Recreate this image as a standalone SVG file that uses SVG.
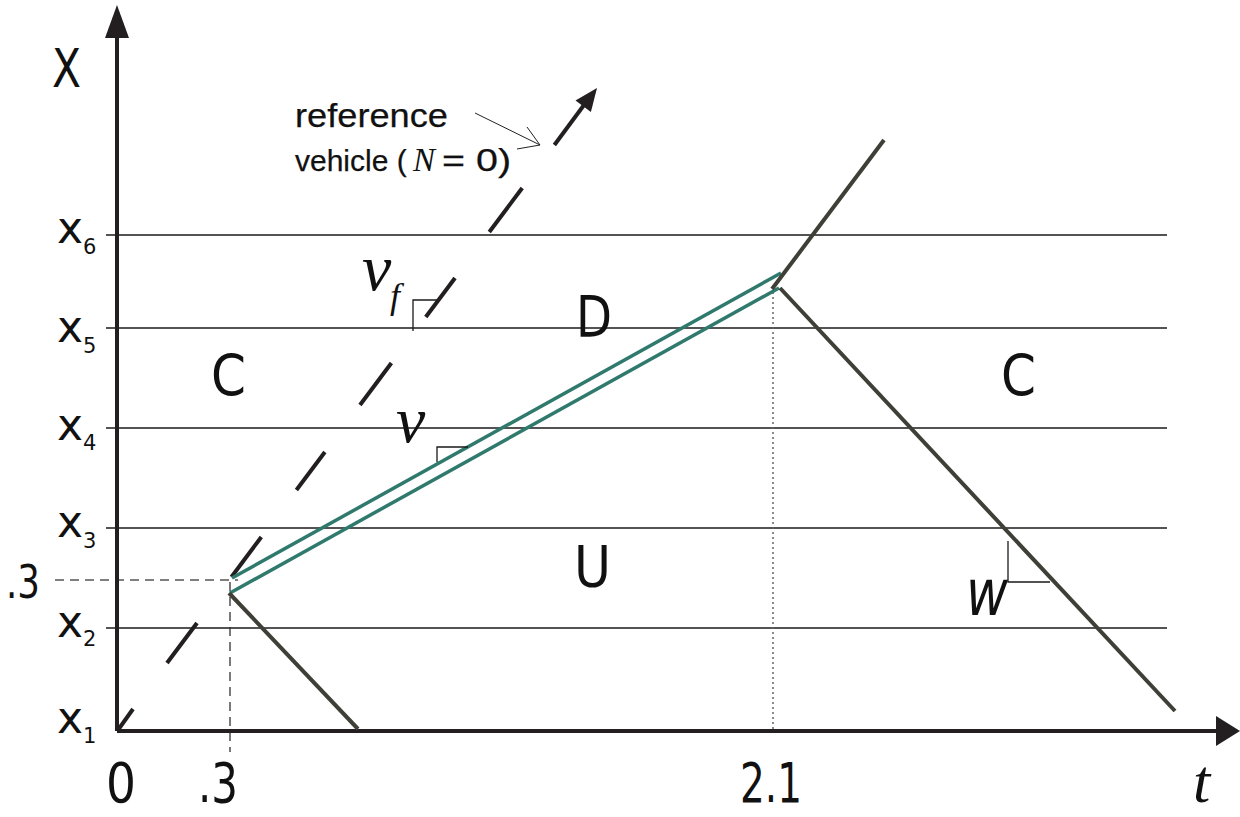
<svg xmlns="http://www.w3.org/2000/svg" width="1240" height="817" viewBox="0 0 1240 817">
<style>
.grid{stroke:#1a1a1a;stroke-width:1.3;fill:none}
.axis{stroke:#231f20;stroke-width:4;fill:none}
.traj{stroke:#3f3f38;stroke-width:4;fill:none;stroke-linecap:butt}
.ref{stroke:#231f20;stroke-width:4;fill:none}
.green{stroke:#2f7a6d;stroke-width:3.5;fill:none}
.thin{stroke:#1a1a1a;stroke-width:1.3;fill:none}
.lab{font-family:"DejaVu Sans",sans-serif;fill:#111}
.note{font-family:"Liberation Sans",sans-serif;fill:#111;stroke:#111;stroke-width:0.25}
.ser{font-family:"Liberation Serif",serif;font-style:italic;fill:#111}
</style>
<rect width="1240" height="817" fill="#fff"/>
<g id="grid">
<line class="grid" x1="106" y1="235" x2="1167" y2="235"/>
<line class="grid" x1="106" y1="328" x2="1167" y2="328"/>
<line class="grid" x1="106" y1="428" x2="1167" y2="428"/>
<line class="grid" x1="106" y1="528" x2="1167" y2="528"/>
<line class="grid" x1="106" y1="628" x2="1167" y2="628"/>
</g>
<g id="guides">
<line x1="55" y1="580" x2="238" y2="580" stroke="#555" stroke-width="1.3" stroke-dasharray="9 6"/>
<line x1="230" y1="582" x2="230" y2="752" stroke="#333" stroke-width="1.3" stroke-dasharray="9 6"/>
<line x1="773" y1="292" x2="773" y2="730" stroke="#666" stroke-width="1.5" stroke-dasharray="2 3"/>
</g>
<g id="axes">
<line class="axis" x1="117" y1="731" x2="117" y2="34"/>
<polygon points="117,5 105,38 129,38" fill="#231f20"/>
<line class="axis" x1="117" y1="731" x2="1218" y2="731"/>
<polygon points="1240,731 1216,716 1216,746" fill="#231f20"/>
</g>
<g id="connectors">
<g id="reference-vehicle">
<line class="ref" x1="118" y1="730" x2="133" y2="709"/>
<line class="ref" x1="167" y1="663" x2="197" y2="623"/>
<line class="ref" x1="231.4" y1="577" x2="261.3" y2="537"/>
<line class="ref" x1="296.4" y1="490" x2="324.9" y2="452"/>
<line class="ref" x1="360" y1="405" x2="391.4" y2="363"/>
<line class="ref" x1="425.8" y1="317" x2="455" y2="278"/>
<line class="ref" x1="489.3" y1="232" x2="522.2" y2="188"/>
<line class="ref" x1="554.4" y1="145" x2="584" y2="105"/>
<polygon points="597,88 590.9,112.0 575.5,100.4" fill="#231f20"/>
</g>
<line class="green" x1="232" y1="578" x2="781" y2="273"/>
<line class="green" x1="230" y1="593" x2="779" y2="288"/>
<line class="traj" x1="229" y1="593" x2="358" y2="729"/>
<line class="traj" x1="780" y1="288" x2="1175" y2="711"/>
<line class="traj" x1="772" y1="289" x2="884" y2="140"/>
<g id="pointer">
<line x1="475" y1="113" x2="540" y2="145" stroke="#222" stroke-width="1"/>
<polyline points="527,127 540,145 517,149" stroke="#222" stroke-width="1" fill="none"/>
</g>
<g id="slopes">
<polyline class="thin" points="413,331 413,300 437,300"/>
<polyline class="thin" points="437,462 437,447 468,447"/>
<polyline class="thin" points="1008,541 1008,582 1050,582"/>
</g>
</g>
<g id="labels">
<text class="lab" x="52" y="87" font-size="53" textLength="29" lengthAdjust="spacingAndGlyphs" font-family="Liberation Sans, sans-serif">X</text>
<text class="lab" x="57" y="243" font-size="44">x</text><text class="lab" x="83" y="254" font-size="21">6</text>
<text class="lab" x="57" y="342" font-size="44">x</text><text class="lab" x="83" y="353" font-size="21">5</text>
<text class="lab" x="57" y="440" font-size="44">x</text><text class="lab" x="83" y="450" font-size="21">4</text>
<text class="lab" x="57" y="537" font-size="44">x</text><text class="lab" x="83" y="548" font-size="21">3</text>
<text class="lab" x="57" y="637" font-size="44">x</text><text class="lab" x="83" y="646" font-size="21">2</text>
<text class="lab" x="57" y="733" font-size="44">x</text><text class="lab" x="83" y="743" font-size="21">1</text>
<text class="lab" x="6" y="598" font-size="46" textLength="34" lengthAdjust="spacingAndGlyphs">.3</text>
<text class="lab" x="106" y="802" font-size="56" textLength="30" lengthAdjust="spacingAndGlyphs">0</text>
<text class="lab" x="198" y="802" font-size="56" textLength="40" lengthAdjust="spacingAndGlyphs">.3</text>
<text class="lab" x="740" y="802" font-size="56" textLength="62" lengthAdjust="spacingAndGlyphs">2.1</text>
<text class="ser" x="1193" y="802" font-size="62">t</text>
<text class="lab" x="211" y="396" font-size="57" textLength="35" lengthAdjust="spacingAndGlyphs">C</text>
<text class="lab" x="1001" y="396" font-size="57" textLength="35" lengthAdjust="spacingAndGlyphs">C</text>
<text class="lab" x="576" y="337" font-size="57" textLength="36" lengthAdjust="spacingAndGlyphs">D</text>
<text class="lab" x="574" y="587" font-size="57" textLength="37" lengthAdjust="spacingAndGlyphs">U</text>
<text class="ser" x="362" y="290" font-size="66">v</text>
<text class="ser" x="390" y="308" font-size="36">f</text>
<text class="ser" x="396" y="442" font-size="66">v</text>
<text class="lab" x="966" y="615" font-size="64" font-style="italic" textLength="42" lengthAdjust="spacingAndGlyphs">w</text>
<text class="note" x="295" y="127" font-size="34" textLength="153" lengthAdjust="spacingAndGlyphs">reference</text>
<text class="note" x="295" y="171" font-size="30">vehicle (</text>
<text class="ser" x="413" y="171" font-size="33">N</text>
<text class="note" x="442" y="171" font-size="32" textLength="69" lengthAdjust="spacingAndGlyphs">= 0)</text>
</g>
</svg>
